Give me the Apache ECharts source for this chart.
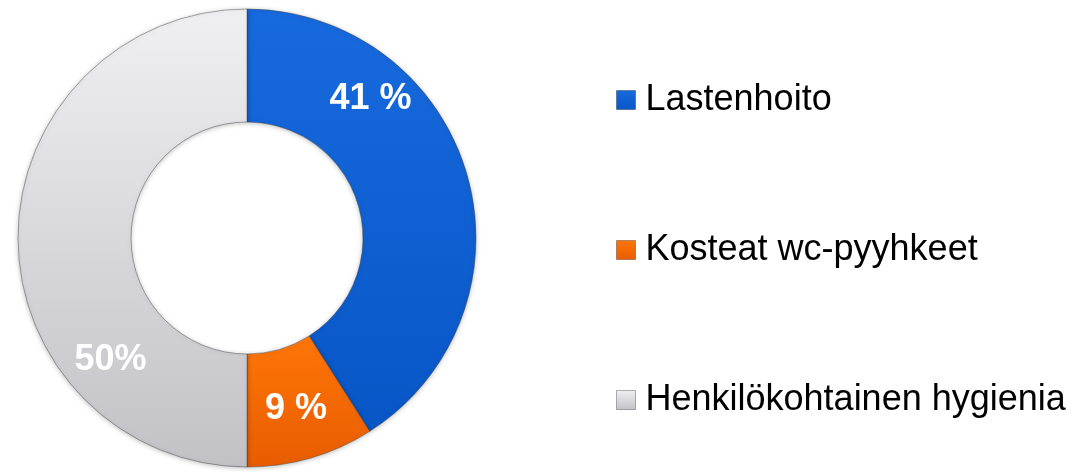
<!DOCTYPE html>
<html>
<head>
<meta charset="utf-8">
<script src="https://cdn.jsdelivr.net/npm/echarts@6/dist/echarts.min.js"></script>
<style>
  html, body { margin: 0; padding: 0; background: #fff; }
  #main { width: 1084px; height: 472px; }
</style>
</head>
<body>
<div id="main"></div>
<script>
  // data
  var categories = ['Lastenhoito', 'Kosteat wc-pyyhkeet', 'Henkilökohtainen hygienia'];
  var values = [41, 9, 50];
  var labelTexts = ['41 %', '9 %', '50%'];

  var fills = [
    ['#176ade', '#0856c6'],
    ['#ff7608', '#e85c00'],
    ['#f0f0f2', '#c2c2c6']
  ];
  // label nudges so they sit where the original put them
  var labelOffsets = [[-45, -90], [0, 3], [39, 122]];

  var myChart = echarts.init(document.getElementById('main'));

  var seriesData = categories.map(function (name, i) {
    return {
      name: name,
      value: values[i],
      itemStyle: {
        color: new echarts.graphic.LinearGradient(0, 0, 0, 1, [
          { offset: 0, color: fills[i][0] },
          { offset: 1, color: fills[i][1] }
        ])
      },
      label: {
        formatter: labelTexts[i],
        offset: labelOffsets[i]
      }
    };
  });

  myChart.setOption({
    animation: false,
    legend: {
      orient: 'vertical',
      left: 616,
      top: 80,
      padding: 0,
      itemWidth: 19,
      itemHeight: 19,
      itemGap: 110,
      icon: 'rect',
      data: categories.map(function (name, i) {
        return {
          name: name,
          itemStyle: {
            color: new echarts.graphic.LinearGradient(0, 0, 0, 1, [
              { offset: 0, color: fills[i][0] },
              { offset: 1, color: fills[i][1] }
            ]),
            borderColor: 'rgba(0,0,0,0.3)',
            borderWidth: 1
          }
        };
      }),
      textStyle: {
        fontFamily: 'Liberation Sans, Arial, sans-serif',
        fontSize: 36,
        lineHeight: 40,
        color: '#000',
        padding: [0, 0, 0, 5]
      }
    },
    series: [
      {
        type: 'pie',
        center: [247, 238],
        radius: [116, 229],
        startAngle: 90,
        clockwise: true,
        silent: true,
        itemStyle: {
          borderColor: 'rgba(60,60,60,0.45)',
          borderWidth: 1,
          shadowBlur: 5,
          shadowColor: 'rgba(0,0,0,0.25)',
          shadowOffsetY: 1
        },
        label: {
          show: true,
          position: 'inside',
          color: '#fff',
          fontFamily: 'Liberation Sans, Arial, sans-serif',
          fontWeight: 'bold',
          fontSize: 36
        },
        labelLine: { show: false },
        data: seriesData
      }
    ]
  });
</script>
</body>
</html>
